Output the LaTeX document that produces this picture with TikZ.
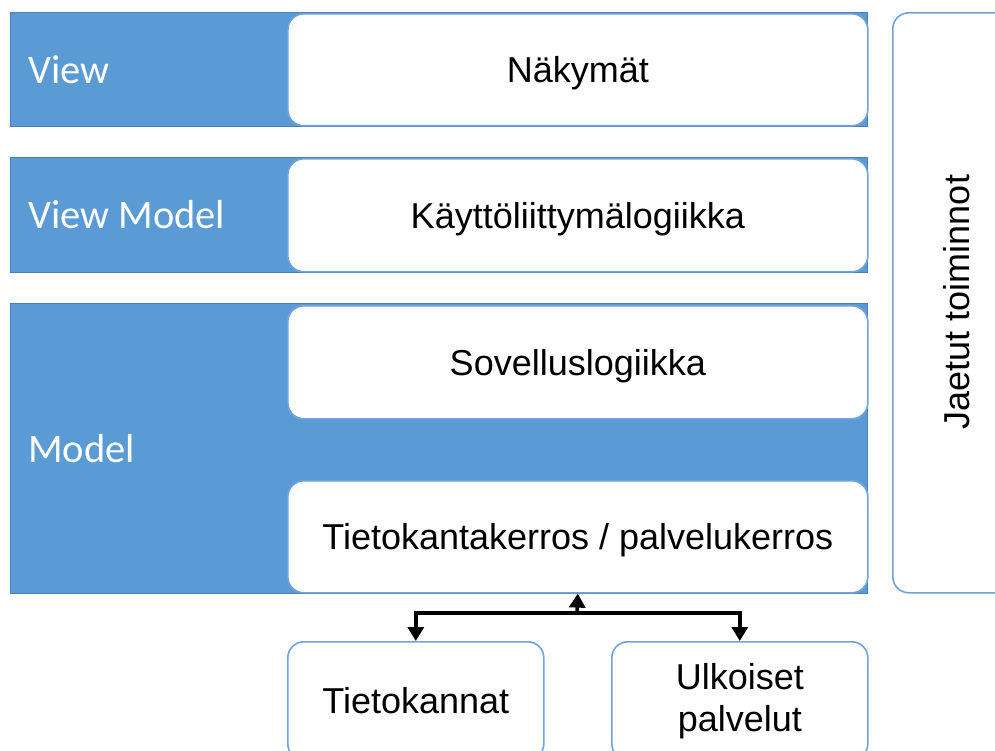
\documentclass[tikz,border=0pt]{standalone}
\usepackage{fontspec}
\setmainfont{Liberation Sans}
\newfontfamily\layerfont{Carlito}
\usetikzlibrary{arrows.meta}
\definecolor{layerblue}{HTML}{5B9BD5}
\definecolor{layeredge}{HTML}{4A7FB5}
\definecolor{boxedge}{HTML}{6FA3DA}
\tikzset{
  band/.style={draw=layeredge, line width=1.2pt, fill=layerblue, anchor=north west,
    minimum width=857pt, inner sep=0pt},
  bandlabel/.style={anchor=west, text=white, font=\layerfont\fontsize{40.5}{46}\selectfont, inner sep=0pt},
  panel/.style={draw=boxedge, line width=1.6pt, fill=white, rounded corners=16pt,
    anchor=north west, inner sep=0pt, font=\fontsize{36}{42}\selectfont, align=center},
  oneline/.style={text height=26pt, text depth=0pt},
  conn/.style={line width=3.4pt, -{Triangle[width=16pt,length=14pt]}}
}
\begin{document}
\begin{tikzpicture}[x=1pt,y=-1pt]
\useasboundingbox (0,0) rectangle (995,751);
\clip (0,0) rectangle (995,751);

% layer bands
\node[band, minimum height=114pt] (view) at (10,12) {};
\node[band, minimum height=115pt] (vm) at (10,157) {};
\node[band, minimum height=290pt] (model) at (10,303) {};

\node[bandlabel] (viewlbl) at (28,70) {View};
\node[bandlabel] (vmlbl) at (28,215) {View Model};
\node[bandlabel] (modellbl) at (28,449) {Model};

% contents of each layer
\node[panel, oneline, minimum width=580pt, minimum height=112pt] (nak) at (287,13) {Näkymät};
\node[panel, oneline, minimum width=580pt, minimum height=113pt] (kal) at (287,158) {Käyttöliittymälogiikka};
\node[panel, oneline, minimum width=580pt, minimum height=113pt] (sov) at (287,305) {Sovelluslogiikka};
\node[panel, oneline, minimum width=580pt, minimum height=112pt] (tk) at (287,480) {Tietokantakerros / palvelukerros};

% shared services column
\node[panel, minimum width=132pt, minimum height=580pt] (jaetut) at (892,12) {};
\node[rotate=90, font=\fontsize{36}{42}\selectfont] (jaetutlbl) at (957,302) {Jaetut toiminnot};

% external resources
\node[panel, oneline, minimum width=256pt, minimum height=118pt] (tkan) at (287,641) {Tietokannat};
\node[panel, minimum width=256pt, minimum height=118pt] (ulk) at (611,641) {Ulkoiset\\palvelut};

% connectors
\coordinate (j) at (577,613);
\draw[conn] (j) -- (tk.south);
\draw[conn] (j) -| (tkan.north);
\draw[conn] (j) -| (ulk.north);
\end{tikzpicture}
\end{document}
